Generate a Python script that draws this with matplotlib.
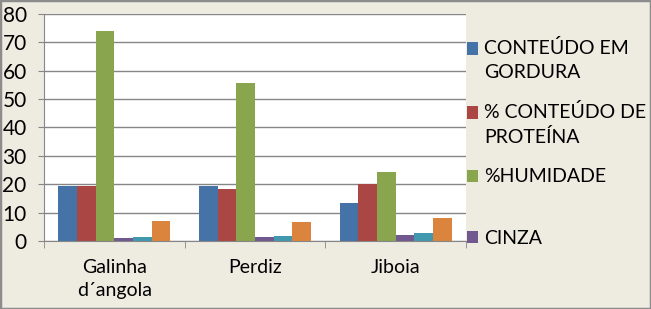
import numpy as np
import matplotlib.pyplot as plt
from matplotlib.patches import Rectangle

# data
categories = ['Galinha\nd´angola', 'Perdiz', 'Jiboia']
series_names = ['CONTEÚDO EM\nGORDURA', '% CONTEÚDO DE\nPROTEÍNA', '%HUMIDADE\n ', 'CINZA', 'série 5', 'série 6']
gordura = [19.4, 19.4, 13.4]
proteina = [19.4, 18.3, 20.1]
humidade = [73.9, 55.6, 24.3]
cinza = [1.0, 1.4, 2.1]
serie5 = [1.4, 1.8, 2.8]
serie6 = [7.0, 6.7, 8.1]
colors = ['#4572A7', '#AA4643', '#89A54E', '#71588F', '#4198AF', '#DB843D']

plt.rcParams['font.family'] = ['Lato', 'DejaVu Sans']
bg = '#EEECE1'
grid_c = '#868686'

fig = plt.figure(figsize=(6.51, 3.09), dpi=100, facecolor=bg)
ax = fig.add_axes([0.0676, 0.2201, 0.716 - 0.0676, 0.9547 - 0.2201])
ax.set_facecolor('white')

all_series = [gordura, proteina, humidade, cinza, serie5, serie6]
x = np.arange(len(categories))
w = 0.1326
bars = []
for i, vals in enumerate(all_series):
    b = ax.bar(x + (i - 2.5) * w, vals, width=w, color=colors[i], zorder=3)
    bars.append(b)

ax.set_xlim(-0.5, 2.5)
ax.set_ylim(0, 80)
ax.set_yticks(range(0, 81, 10))
ax.yaxis.grid(True, color=grid_c, linewidth=1, zorder=0)
ax.tick_params(axis='y', length=4.5, color=grid_c, labelsize=15, pad=8, labelcolor='black')
ax.set_xticks(x)
ax.set_xticklabels(categories, fontsize=14, linespacing=1.45)
ax.set_xticks([-0.5, 0.5, 1.5, 2.5], minor=True)
ax.tick_params(axis='x', which='major', length=0, pad=13)
ax.tick_params(axis='x', which='minor', length=5, color=grid_c)
for s in ['top', 'right']:
    ax.spines[s].set_visible(False)
ax.spines['left'].set_color(grid_c)
ax.spines['bottom'].set_color(grid_c)
ax.spines['bottom'].set_zorder(4)

leg = fig.legend([b[0] for b in bars[:4]], series_names[:4], loc='upper left',
                 bbox_to_anchor=(0.711, 0.885), frameon=False, fontsize=14,
                 handlelength=0.6, handleheight=0.6, handletextpad=0.3,
                 labelspacing=1.1, borderaxespad=0, borderpad=0.2)
for t in leg.get_texts():
    t.set_linespacing(1.5)
# put the colour square next to the first line of two-line labels
for p in leg.get_patches()[:3]:
    p.set_y(p.get_y() + 8.8)

fig.add_artist(Rectangle((0, 0), 1, 1, transform=fig.transFigure, fill=False,
                         edgecolor='#8C8C8C', linewidth=2.5))
plt.savefig('out.png', dpi=100, facecolor=bg)
